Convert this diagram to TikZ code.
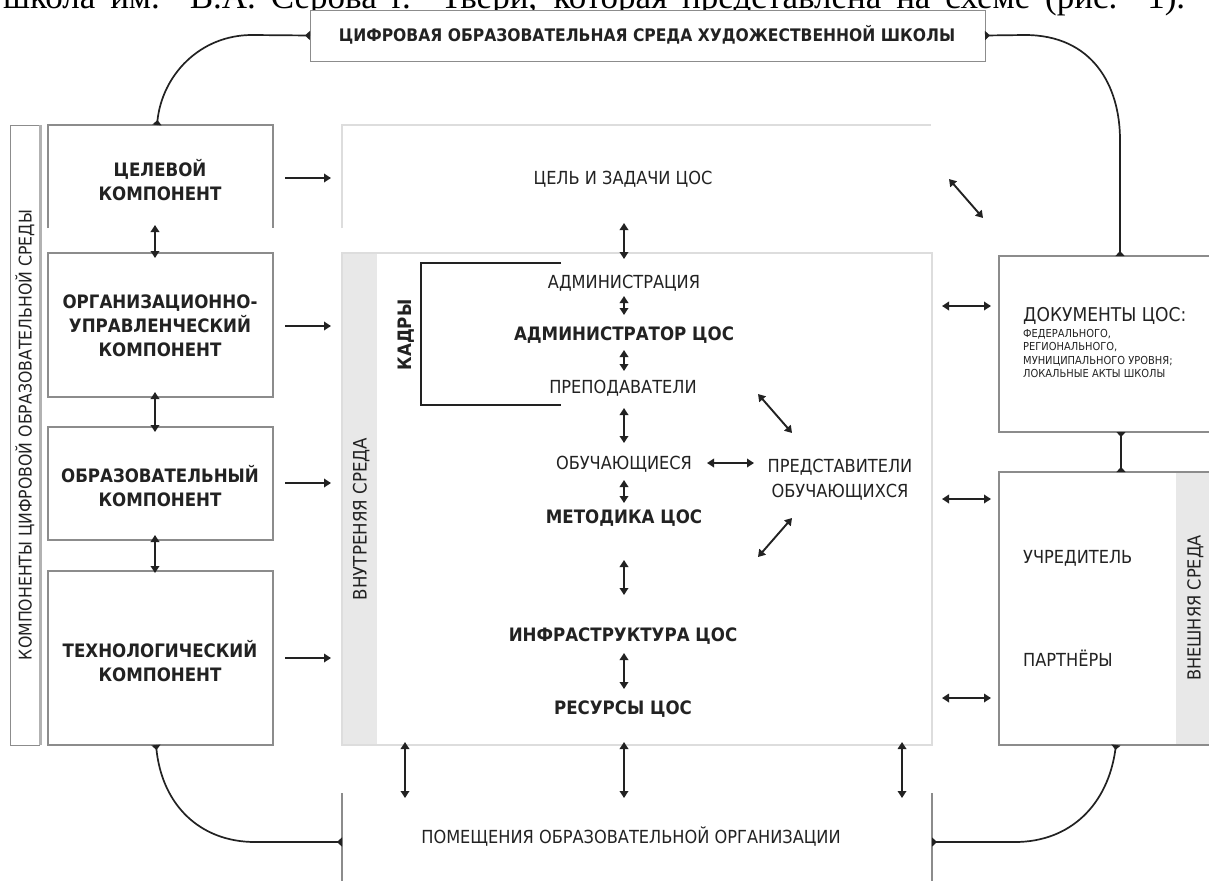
\documentclass[tikz,border=0pt]{standalone}
\usepackage{fontspec}
\setmainfont{DejaVu Sans Condensed}[BoldFont={DejaVu Sans Condensed Bold}]
\newfontfamily\docfont{Liberation Serif}
\usetikzlibrary{arrows.meta}
\definecolor{ink}{HTML}{222222}
\definecolor{boxline}{HTML}{8C8C8C}
\definecolor{faint}{HTML}{DDDDDD}
\definecolor{band}{HTML}{E8E8E8}
\tikzset{
  reg/.style={font=\fontsize{18}{22}\selectfont, inner sep=0pt, text height=13pt, text depth=0pt, text=ink},
  bld/.style={font=\fontsize{18.5}{24}\selectfont\bfseries, inner sep=0pt, align=center, text=ink},
  bldone/.style={font=\fontsize{18.5}{24}\selectfont\bfseries, inner sep=0pt, text height=13pt, text depth=0pt, text=ink},
  small/.style={font=\fontsize{11}{13.5}\selectfont, inner sep=0pt, align=left, text=ink},
  area/.style={inner sep=0pt, outer sep=0pt, draw=none},
  dar/.style={{Triangle[length=7pt,width=8.5pt]}-{Triangle[length=7pt,width=8.5pt]}, line width=1.9pt, draw=ink},
  sar/.style={-{Triangle[length=7pt,width=8.5pt]}, line width=1.9pt, draw=ink},
  conn/.style={{Triangle[reversed,length=5pt,width=9pt]}-{Triangle[reversed,length=5pt,width=9pt]}, line width=1.7pt, draw=ink},
  gline/.style={draw=boxline, line width=1.2pt},
  fline/.style={draw=faint, line width=1.2pt}
}
\begin{document}
\begin{tikzpicture}[x=1pt,y=-1pt]
\useasboundingbox (0,0) rectangle (1209,881);
\fill[white] (0,0) rectangle (1209,881);

% top document line (cut off by the page edge, as in the reference)
\node[anchor=base west, inner sep=0pt, font=\docfont\fontsize{35}{40}\selectfont, text=black] (docline) at (3,8)
  {\makebox[1182pt][s]{школа им. В.А. Серова г. Твери, которая представлена на схеме (рис. 1).}};

% title box
\node[area, minimum width=675, minimum height=51, anchor=north west, fill=white, draw=boxline, line width=1pt] (title) at (310,10) {};
\node[bldone, font=\fontsize{17.3}{20}\selectfont\bfseries] (titletext) at (647,35) {ЦИФРОВАЯ ОБРАЗОВАТЕЛЬНАЯ СРЕДА ХУДОЖЕСТВЕННОЙ ШКОЛЫ};

% left label box
\node[area, minimum width=30, minimum height=620, anchor=north west] (kbox) at (10,125) {};
\draw[draw=boxline, line width=1pt] (kbox.north east) -- (kbox.north west) -- (kbox.south west) -- (kbox.south east);
\draw[draw=gray!60, line width=3pt] (kbox.north east) -- (kbox.south east);
\node[reg, rotate=90, font=\fontsize{17.5}{20}\selectfont] (ktext) at (kbox.center) {КОМПОНЕНТЫ ЦИФРОВОЙ ОБРАЗОВАТЕЛЬНОЙ СРЕДЫ};

% component boxes
\node[area, minimum width=225, minimum height=103, anchor=north west] (c1) at (48,125) {};
\node[area, minimum width=225, minimum height=144, anchor=north west] (c2) at (48,253) {};
\node[area, minimum width=225, minimum height=113, anchor=north west] (c3) at (48,427) {};
\node[area, minimum width=225, minimum height=174, anchor=north west] (c4) at (48,571) {};
\draw[gline] (c1.south west) -- (c1.north west) -- (c1.north east) -- (c1.south east);
\draw[gline] (c2.north west) rectangle (c2.south east);
\draw[gline] (c3.north west) rectangle (c3.south east);
\draw[gline] (c4.north west) rectangle (c4.south east);
\node[bld] (c1t) at (160,180) {ЦЕЛЕВОЙ\\КОМПОНЕНТ};
\node[bld] (c2t) at (160,326) {ОРГАНИЗАЦИОННО-\\УПРАВЛЕНЧЕСКИЙ\\КОМПОНЕНТ};
\node[bld] (c3t) at (160,486) {ОБРАЗОВАТЕЛЬНЫЙ\\КОМПОНЕНТ};
\node[bld] (c4t) at (160,661) {ТЕХНОЛОГИЧЕСКИЙ\\КОМПОНЕНТ};

% central areas
\node[area, minimum width=589, minimum height=103, anchor=north west] (goalbox) at (342,125) {};
\draw[fline] (goalbox.south west) -- (goalbox.north west) -- (goalbox.north east);
\node[area, minimum width=590, minimum height=492, anchor=north west] (inner) at (342,253) {};
\fill[band] (342,253) rectangle (377,745);
\draw[fline] (inner.north west) rectangle (inner.south east);
\node[reg, rotate=90, font=\fontsize{18.5}{20}\selectfont] (innertext) at (360,519) {ВНУТРЕНЯЯ СРЕДА};
\node[area, minimum width=590, minimum height=90, anchor=north west] (rooms) at (342,793) {};
\draw[gline] (rooms.north west) -- (342,881);
\draw[gline] (rooms.north east) -- (932,881);

\node[reg] (goaltext) at (623,178) {ЦЕЛЬ И ЗАДАЧИ ЦОС};
\node[reg] (adm) at (624,282) {АДМИНИСТРАЦИЯ};
\node[bldone] (admc) at (624,334) {АДМИНИСТРАТОР ЦОС};
\node[reg] (teach) at (623,387) {ПРЕПОДАВАТЕЛИ};
\node[reg] (stud) at (624,463) {ОБУЧАЮЩИЕСЯ};
\node[bldone] (meth) at (624,517) {МЕТОДИКА ЦОС};
\node[bldone] (infra) at (623,635) {ИНФРАСТРУКТУРА ЦОС};
\node[bldone] (res) at (623,708) {РЕСУРСЫ ЦОС};
\node[reg, text height=, align=center, font=\fontsize{18}{25}\selectfont] (repr) at (840,478) {ПРЕДСТАВИТЕЛИ\\ОБУЧАЮЩИХСЯ};
\node[reg] (roomstext) at (631,837) {ПОМЕЩЕНИЯ ОБРАЗОВАТЕЛЬНОЙ ОРГАНИЗАЦИИ};

% KADRY bracket
\coordinate (kb1) at (561,263);
\coordinate (kb2) at (421,263);
\coordinate (kb3) at (421,405);
\coordinate (kb4) at (561,405);
\draw[ink, line width=1.8pt] (kb1) -- (kb2) -- (kb3) -- (kb4);
\node[bldone, rotate=90] (kadry) at (405,335) {КАДРЫ};

% right boxes
\node[area, minimum width=210, minimum height=176, anchor=north west] (docs) at (999,256) {};
\draw[gline] (docs.north east) -- (docs.north west) -- (docs.south west) -- (docs.south east);
\node[reg, anchor=west, font=\fontsize{19}{22}\selectfont] (docstext) at (1023,315) {ДОКУМЕНТЫ ЦОС:};
\node[small, anchor=north west] (docsub) at (1023,329) {ФЕДЕРАЛЬНОГО,\\РЕГИОНАЛЬНОГО,\\МУНИЦИПАЛЬНОГО УРОВНЯ;\\ЛОКАЛЬНЫЕ АКТЫ ШКОЛЫ};

\node[area, minimum width=210, minimum height=273, anchor=north west] (ext) at (999,472) {};
\fill[band] (1176,472) rectangle (1209,745);
\draw[gline] (ext.north east) -- (ext.north west) -- (ext.south west) -- (ext.south east);
\node[reg, rotate=90, font=\fontsize{18}{20}\selectfont] (exttext) at (1194,608) {ВНЕШНЯЯ СРЕДА};
\node[reg, anchor=west] (founder) at (1023,557) {УЧРЕДИТЕЛЬ};
\node[reg, anchor=west] (partners) at (1023,660) {ПАРТНЁРЫ};

% curved connectors
\coordinate (tl2) at (157,125);
\draw[conn] (title.west) -- (252,35) .. controls (200,35) and (162,75) .. (c1.north -| tl2);
\draw[conn] (title.east) -- (1025,35) .. controls (1092,35) and (1120,85) .. (1120,140) -- (docs.north -| 1120,0);
\draw[conn] (docs.south -| 1121,0) -- (ext.north -| 1121,0);
\draw[conn] (c4.south -| 156,0) .. controls (162,805) and (200,842) .. (255,842) -- (342,842);
\draw[conn] (ext.south -| 1116,0) .. controls (1108,805) and (1070,842) .. (1015,842) -- (932,842);

% left column arrows
\draw[dar, shorten <=-3pt, shorten >=-5pt] (c1.south -| 155,0) -- (c2.north -| 155,0);
\draw[dar, shorten <=-5pt, shorten >=-5pt] (c2.south -| 155,0) -- (c3.north -| 155,0);
\draw[dar, shorten <=-5pt, shorten >=-2pt] (c3.south -| 155,0) -- (c4.north -| 155,0);

% component -> centre
\foreach \y/\n in {178/1,326/2,483/3,658/4} {
  \coordinate (ls\n) at (285,\y);
  \coordinate (le\n) at (331,\y);
  \draw[sar] (ls\n) -- (le\n);
}

% central column
\foreach \n/\a/\b in {g/223/259, a/296/315, b/350/371, c/408/443, d/480/503, e/560/595, f/653/689} {
  \coordinate (v\n1) at (624,\a);
  \coordinate (v\n2) at (624,\b);
  \draw[dar] (v\n1) -- (v\n2);
}
% bottom
\foreach \x/\n in {405/1,624/2,902/3} {
  \coordinate (b\n1) at (\x,742);
  \coordinate (b\n2) at (\x,798);
  \draw[dar] (b\n1) -- (b\n2);
}
% right
\foreach \y/\n in {306/1,499/2,698/3} {
  \coordinate (r\n1) at (942,\y);
  \coordinate (r\n2) at (991,\y);
  \draw[dar] (r\n1) -- (r\n2);
}
% students <-> representatives
\coordinate (sr1) at (707,463);
\coordinate (sr2) at (754,463);
\draw[dar] (sr1) -- (sr2);
% diagonals
\coordinate (d11) at (758,394); \coordinate (d12) at (792,433);
\coordinate (d21) at (792,518); \coordinate (d22) at (758,557);
\coordinate (d31) at (949,179); \coordinate (d32) at (983,218);
\draw[dar] (d11) -- (d12);
\draw[dar] (d21) -- (d22);
\draw[dar] (d31) -- (d32);
\end{tikzpicture}
\end{document}
